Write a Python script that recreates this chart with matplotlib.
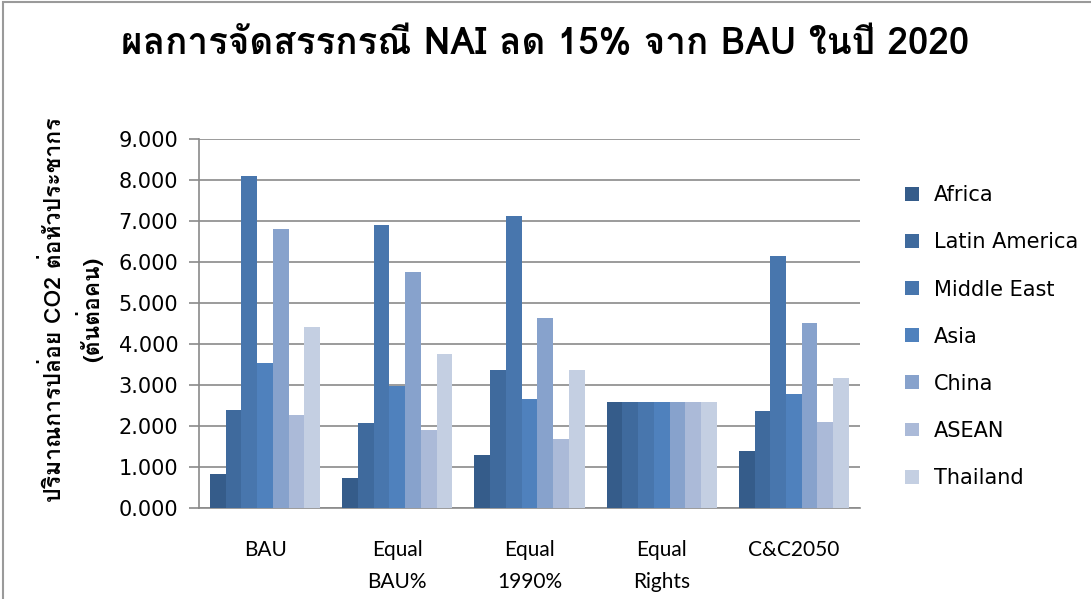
import numpy as np
import matplotlib
matplotlib.use('Agg')
import matplotlib.pyplot as plt
from matplotlib import font_manager
from matplotlib.ft2font import FT2Font
from matplotlib.patches import Rectangle

# ==================== 数据 ====================
categories = ['BAU', 'Equal\nBAU%', 'Equal\n1990%', 'Equal\nRights', 'C&C2050']
regions = ['Africa', 'Latin America', 'Middle East', 'Asia', 'China', 'ASEAN', 'Thailand']

africa        = [0.82, 0.72, 1.28, 2.58, 1.38]
latin_america = [2.38, 2.06, 3.36, 2.58, 2.36]
middle_east   = [8.10, 6.90, 7.12, 2.58, 6.15]
asia          = [3.53, 2.98, 2.65, 2.58, 2.77]
china         = [6.81, 5.76, 4.63, 2.58, 4.51]
asean         = [2.26, 1.89, 1.67, 2.58, 2.09]
thailand      = [4.41, 3.75, 3.36, 2.58, 3.16]

series = [africa, latin_america, middle_east, asia, china, asean, thailand]
colors = ['#355C8A', '#3F6A9D', '#4876AD', '#4F81BD', '#87A2CC', '#ABBAD8', '#C4CFE2']

title = 'ผลการจัดสรรกรณี NAI ลด 15% จาก BAU ในปี 2020'
ylabel = 'ปริมาณการปล่อย CO2 ต่อหัวประชากร\n(ตันต่อคน)'


# ---- 找一个带泰文字形的字体 ----
def find_thai_font():
    for fe in font_manager.fontManager.ttflist:
        try:
            cmap = FT2Font(fe.fname).get_charmap()
        except Exception:
            continue
        if 0x0E01 in cmap and 0x0E23 in cmap:
            return fe.name
    return None


thai = find_thai_font()
fam = [thai, 'DejaVu Sans'] if thai else ['DejaVu Sans']

fig = plt.figure(figsize=(10.91, 5.99), dpi=100)
ax = fig.add_axes([0.1824, 0.152, 0.6058, 0.616])

n = len(series)
w = 0.119
x = np.arange(len(categories))
for i, (vals, c, name) in enumerate(zip(series, colors, regions)):
    ax.bar(x + (i - (n - 1) / 2) * w, vals, width=w, color=c, label=name, zorder=3)

ax.set_xlim(-0.5, len(categories) - 0.5)
ax.set_ylim(0, 9)
ax.set_yticks(np.arange(0, 10, 1))
ax.set_yticklabels([f'{v:.3f}' for v in range(10)], fontsize=15)
ax.set_xticks(x)
ax.set_xticklabels(categories, fontsize=15, linespacing=1.75, family=['Lato', 'DejaVu Sans'],
                   va='top')
ax.tick_params(axis='x', length=0, pad=23)
ax.tick_params(axis='y', length=7, color='#8a8a8a', width=1.2, pad=8)
ax.grid(axis='y', color='#8a8a8a', linewidth=1.2, zorder=0)
for s in ['top', 'right']:
    ax.spines[s].set_visible(False)
for s in ['left', 'bottom']:
    ax.spines[s].set_color('#8a8a8a')
    ax.spines[s].set_linewidth(1.2)

fig.text(0.5, 0.926, title, ha='center', va='center', fontsize=26.5, fontweight='bold', family=fam)
fig.text(0.066, 0.483, ylabel, ha='center', va='center', rotation=90, fontsize=16.5,
         fontweight='bold', family=fam, linespacing=1.45)

leg = ax.legend(loc='upper left', bbox_to_anchor=(1.04, 0.925), frameon=False, fontsize=15,
                handlelength=0.65, handleheight=0.65, labelspacing=1.3, handletextpad=0.75)

# 图表外框
fig.patches.append(Rectangle((0.003, -0.01), 1.2, 1.006, transform=fig.transFigure,
                             fill=False, edgecolor='#9a9a9a', linewidth=1.5))

fig.savefig('out.png', dpi=100)
